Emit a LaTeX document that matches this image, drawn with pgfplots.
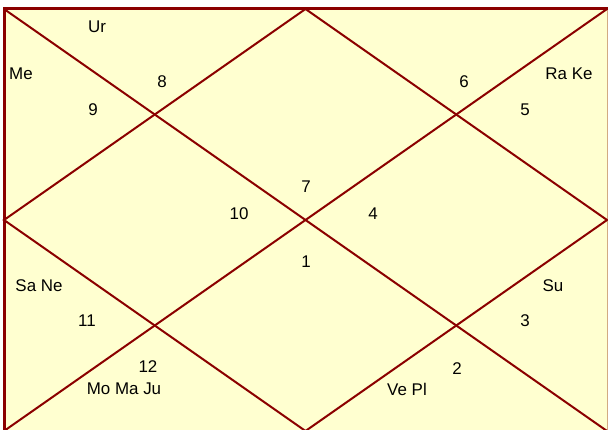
\documentclass[border=0pt]{standalone}
\usepackage{pgfplots}
\pgfplotsset{compat=1.18}
\usepackage{fontspec}
\setmainfont{Liberation Sans}
\definecolor{bg}{RGB}{255,255,208}
\definecolor{ln}{RGB}{139,0,0}
\definecolor{edge}{RGB}{210,170,130}
\begin{document}
\fontsize{17}{20}\selectfont
\begin{tikzpicture}[lbl/.style={font=\fontsize{17}{20}\selectfont, text=black, inner sep=0pt}]
\begin{axis}[
  width=608bp, height=430bp, scale only axis,
  xmin=0, xmax=608, ymin=0, ymax=430,
  hide axis, clip=true,
]
\addplot[fill=bg, draw=none] coordinates {(4,-2) (607,-2) (607,421) (4,421)} \closedcycle;
\addplot[draw=edge, line width=1bp] coordinates {(607,-2) (607,421)};
\addplot[draw=ln, line width=3bp] coordinates {(4,-2) (4,421) (607.5,421)};
\addplot[draw=ln, line width=2bp] coordinates {(4,421) (607,-1)};
\addplot[draw=ln, line width=2bp] coordinates {(4,-1) (607,421)};
\addplot[draw=ln, line width=2bp] coordinates {(305.5,421) (4,210) (305.5,-1) (607,210) (305.5,421)};
\node[lbl] at (axis cs:97,403) {Ur};
\node[lbl] at (axis cs:21,356) {Me};
\node[lbl] at (axis cs:162,348) {8};
\node[lbl] at (axis cs:93,320) {9};
\node[lbl] at (axis cs:464,348) {6};
\node[lbl] at (axis cs:569,356) {Ra Ke};
\node[lbl] at (axis cs:525,320) {5};
\node[lbl] at (axis cs:306,243) {7};
\node[lbl] at (axis cs:239,216) {10};
\node[lbl] at (axis cs:373,216) {4};
\node[lbl] at (axis cs:306,168) {1};
\node[lbl] at (axis cs:39,144) {Sa Ne};
\node[lbl] at (axis cs:553,144) {Su};
\node[lbl] at (axis cs:87,109) {11};
\node[lbl] at (axis cs:525,109) {3};
\node[lbl] at (axis cs:148,63) {12};
\node[lbl] at (axis cs:457,61) {2};
\node[lbl] at (axis cs:124,41) {Mo Ma Ju};
\node[lbl] at (axis cs:407,41) {Ve Pl};
\end{axis}
\path (current axis.south west) rectangle (current axis.north east);
\end{tikzpicture}
\end{document}
